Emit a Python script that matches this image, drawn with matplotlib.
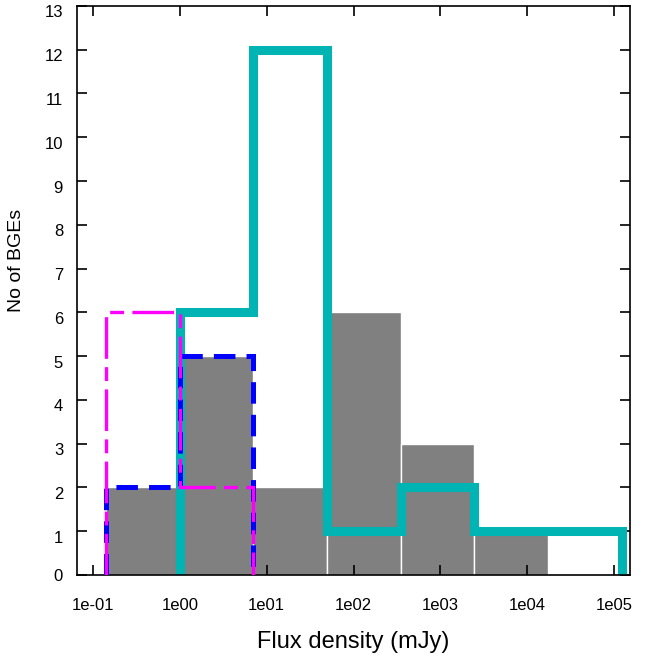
import numpy as np
import matplotlib
matplotlib.use("Agg")
import matplotlib.pyplot as plt
from matplotlib.transforms import ScaledTranslation

plt.rcParams["font.family"] = ["Liberation Sans", "DejaVu Sans"]
plt.rcParams["lines.scale_dashes"] = False

# bin edges (mJy), shared by all histograms
edges = [0.142, 1.0, 7.05, 49.7, 350, 2466, 17380, 122500]

# counts per bin
all_counts = [2, 5, 2, 6, 3, 1]            # grey bars (first 6 bins)
cyan_counts = [6, 12, 1, 2, 1, 1]          # bins 2..7
blue_counts = [2, 5]                       # bins 1..2
magenta_counts = [6, 2]                    # bins 1..2

xtick_vals = [1e-1, 1e0, 1e1, 1e2, 1e3, 1e4, 1e5]
xtick_labels = ["1e-01", "1e00", "1e01", "1e02", "1e03", "1e04", "1e05"]
ytick_vals = list(range(0, 14))

edges = np.array(edges, dtype=float)

fig = plt.figure(figsize=(6.47, 6.57), dpi=100)
ax = fig.add_axes([0.119, 0.125, 0.855, 0.866])
ax.set_xscale("log")

left = edges[:len(all_counts)]
widths = np.diff(edges)[:len(all_counts)]
ax.bar(left, all_counts, width=widths, align="edge", color="#808080",
       edgecolor="white", linewidth=1.0, zorder=1)

ax.stairs(cyan_counts, edges[1:], baseline=0, fill=False, color="#00B4B4",
          linewidth=6.5, zorder=2)
ax.stairs(blue_counts, edges[:3], baseline=0, fill=False, color="#0000FF",
          linewidth=3.6, linestyle=(0, (15.5, 8.0)), zorder=3)
ax.stairs(magenta_counts, edges[:3], baseline=0, fill=False, color="#FF00FF",
          linewidth=2.4, linestyle=(0, (30, 6, 10, 6)), zorder=4)

ax.set_xlim(0.0655, 1.53e5)
ax.set_ylim(0, 13)
ax.set_xticks(xtick_vals)
ax.set_xticklabels(xtick_labels)
ax.xaxis.set_minor_locator(matplotlib.ticker.NullLocator())
ax.set_yticks(ytick_vals)

ax.tick_params(axis="both", which="major", direction="in", length=7, width=1.2,
               top=True, right=True, labelsize=12)
ax.tick_params(axis="x", pad=17)
ax.tick_params(axis="y", pad=10, labelsize=12)
for s in ax.spines.values():
    s.set_linewidth(1.2)

# y tick labels sit a little below their ticks in the original
for lab in ax.get_yticklabels()[1:]:
    lab.set_transform(lab.get_transform()
                      + ScaledTranslation(0, -4 / 72, fig.dpi_scale_trans))

ax.set_xlabel("Flux density (mJy)", fontsize=17)
ax.xaxis.set_label_coords(0.5, -0.098)
ax.set_ylabel("No of BGEs", fontsize=14)
ax.yaxis.set_label_coords(-0.094, 0.552)

fig.savefig("out.png", dpi=100)
